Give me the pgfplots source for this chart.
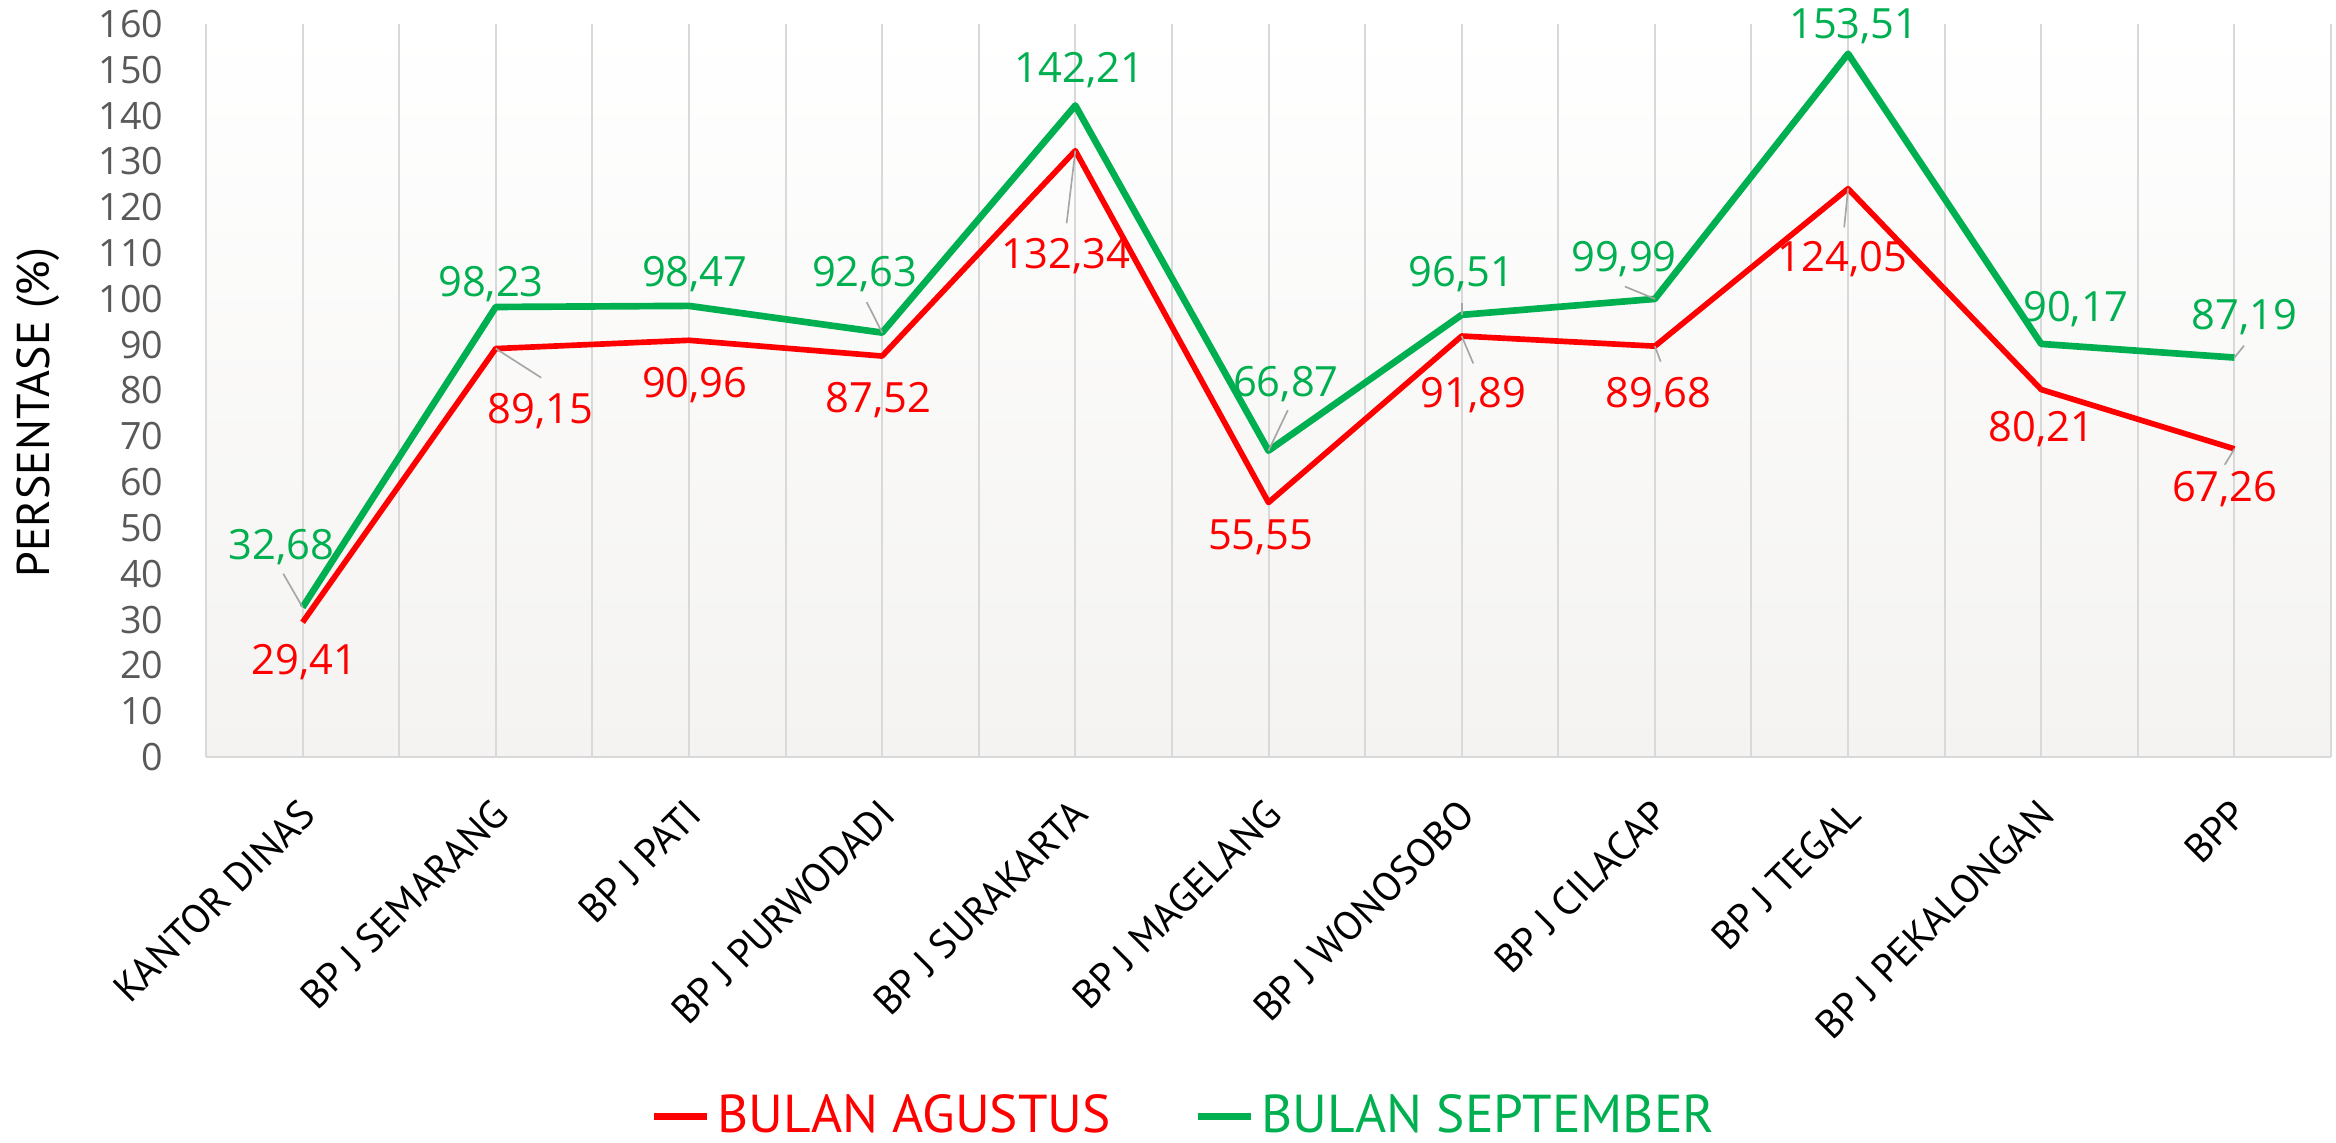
\documentclass[border=0pt]{standalone}
\usepackage{fontspec}
\setmainfont{PT Sans}
\newfontfamily\numfont{Open Sans}
\usepackage{pgfplots}
\usepackage{pgfplotstable}
\pgfplotsset{compat=1.18}
\definecolor{cred}{RGB}{255,0,0}
\definecolor{cgreen}{RGB}{0,176,80}
\definecolor{tickgray}{RGB}{89,89,89}
\definecolor{gridgray}{RGB}{217,217,217}
\definecolor{leadgray}{RGB}{166,166,166}
\definecolor{bggray}{RGB}{244,243,241}

\pgfplotstableread{
x agu sep
0 29.41 32.68
1 89.15 98.23
2 90.96 98.47
3 87.52 92.63
4 132.34 142.21
5 55.55 66.87
6 91.89 96.51
7 89.68 99.99
8 124.05 153.51
9 80.21 90.17
10 67.26 87.19
}\datatable

\newcommand{\lab}[4]{\node[text=#1, font=\numfont\fontsize{12.5}{12.5}\selectfont, inner sep=0pt] at (axis cs:#2,#3) {#4};}
\newcommand{\lead}[4]{\draw[leadgray, line width=0.5pt] (axis cs:#1,#2) -- (axis cs:#3,#4);}

\begin{document}
\begin{tikzpicture}
\path[use as bounding box] (-61.8pt,-115.5pt) rectangle (639pt,227.1pt);
\begin{axis}[
  at={(0,0)}, anchor=south west,
  scale only axis,
  width=637.5pt, height=219.9pt,
  clip=false,
  xmin=-0.5, xmax=10.5,
  ymin=0, ymax=160,
  xtick={0,...,10},
  minor xtick={-0.5,0.5,...,10.5},
  xticklabels={KANTOR DINAS, BP J SEMARANG, BP J PATI, BP J PURWODADI, BP J SURAKARTA, BP J MAGELANG, BP J WONOSOBO, BP J CILACAP, BP J TEGAL, BP J PEKALONGAN, BPP},
  ytick={0,10,...,160},
  xmajorgrids, xminorgrids,
  major grid style={gridgray, line width=0.6pt},
  minor grid style={gridgray, line width=0.6pt},
  major tick length=0pt, minor tick length=0pt,
  axis lines*=left,
  x axis line style={draw=gridgray, line width=0.8pt, -},
  y axis line style={draw=none},
  axis background/.style={shade, top color=white, bottom color=bggray},
  /pgf/number format/assume math mode=true,
  yticklabel style={font=\numfont\fontsize{11.3}{12}\selectfont, text=tickgray, anchor=east, inner sep=0pt, xshift=-12.6pt},
  xticklabel style={font=\fontsize{12}{12}\selectfont, inner sep=0pt, anchor=north east, xshift=-1.5pt, yshift=-11.8pt, rotate=45},
  ylabel={PERSENTASE (\%)},
  every axis y label/.style={at={(axis description cs:0,0.47)}, xshift=-50.5pt, rotate=90, anchor=center, font=\fontsize{13.8}{14}\selectfont},
  legend style={at={(0.461,-0.490)}, anchor=center, draw=none, fill=none, legend columns=2,
    font=\fontsize{16}{16}\selectfont, /tikz/every even column/.append style={column sep=23pt},
    inner sep=0pt},
  legend image code/.code={\draw[#1, line width=2.2pt] (0pt,0pt) -- (16pt,0pt);},
  legend cell align=left,
]
\addplot[cred, line width=1.7pt, line join=round, mark=none] table[x=x, y=agu] {\datatable};
\addlegendentry{\textcolor{cred}{BULAN AGUSTUS}}
\addplot[cgreen, line width=2pt, line join=round, mark=none] table[x=x, y=sep] {\datatable};
\addlegendentry{\textcolor{cgreen}{BULAN SEPTEMBER}}

% leader lines
\lead{0}{32.68}{-0.10}{40}
\lead{3}{92.63}{2.92}{99.3}
\lead{5}{66.87}{5.10}{75.7}
\lead{6}{96.51}{6.0}{99.2}
\lead{7}{99.99}{6.845}{102.7}
\lead{10}{87.19}{10.05}{89.8}
\lead{1}{89.15}{1.235}{82.8}
\lead{4}{132.34}{3.955}{116.5}
\lead{6}{91.89}{6.06}{85.9}
\lead{7}{89.68}{7.03}{86.3}
\lead{8}{124.05}{7.98}{115.6}
\lead{10}{67.26}{9.95}{63.8}

% green labels
\lab{cgreen}{-0.11}{45.9}{32,68}
\lab{cgreen}{0.975}{103.2}{98,23}
\lab{cgreen}{2.03}{105.4}{98,47}
\lab{cgreen}{2.91}{105.4}{92,63}
\lab{cgreen}{4.02}{149.9}{142,21}
\lab{cgreen}{5.09}{81.5}{66,87}
\lab{cgreen}{6.0}{105.4}{96,51}
\lab{cgreen}{6.84}{108.6}{99,99}
\lab{cgreen}{8.03}{159.6}{153,51}
\lab{cgreen}{9.18}{97.7}{90,17}
\lab{cgreen}{10.05}{96}{87,19}
% red labels
\lab{cred}{0.01}{20.8}{29,41}
\lab{cred}{1.23}{75.6}{89,15}
\lab{cred}{2.03}{81.1}{90,96}
\lab{cred}{2.98}{78}{87,52}
\lab{cred}{3.95}{109.3}{132,34}
\lab{cred}{4.96}{48}{55,55}
\lab{cred}{6.06}{79.1}{91,89}
\lab{cred}{7.02}{79.1}{89,68}
\lab{cred}{7.97}{108.6}{124,05}
\lab{cred}{9.0}{71.5}{80,21}
\lab{cred}{9.95}{58.4}{67,26}
\end{axis}
\end{tikzpicture}
\end{document}
